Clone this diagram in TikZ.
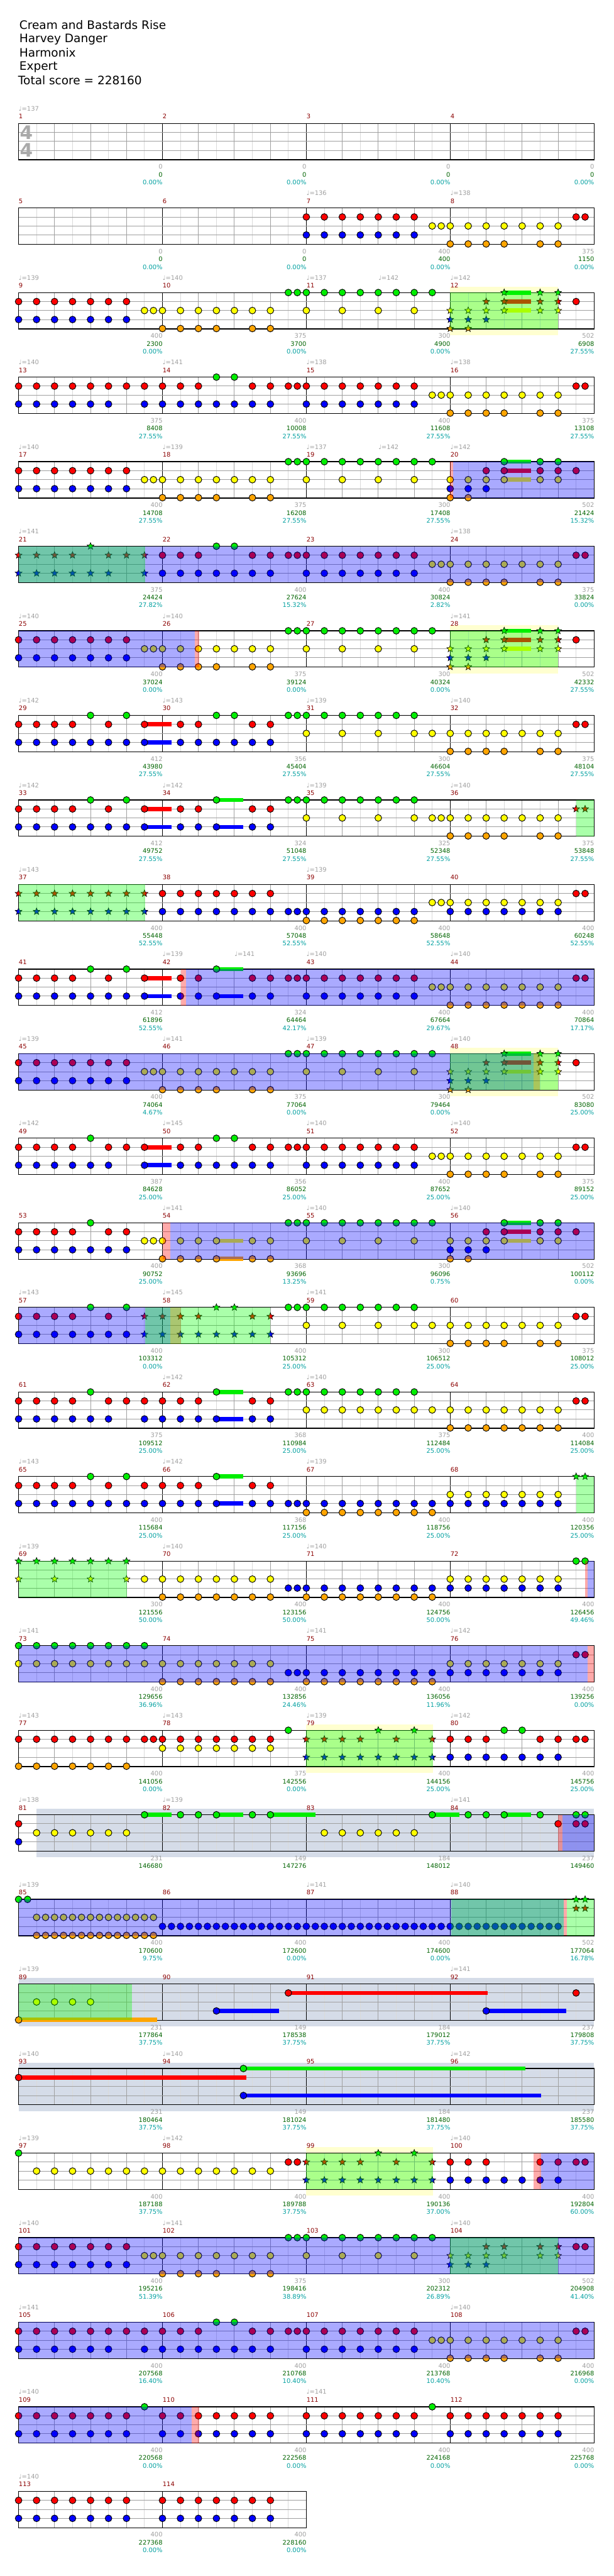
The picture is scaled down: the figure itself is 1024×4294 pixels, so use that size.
\documentclass[tikz,border=0pt]{standalone}
\usepackage{fontspec}
\setmainfont{DejaVu Sans}
\usetikzlibrary{shapes.geometric}
\pgfdeclarelayer{bg}\pgfdeclarelayer{fg}\pgfsetlayers{bg,main,fg}
\definecolor{ngreen}{RGB}{0,238,0}
\definecolor{nred}{RGB}{255,0,0}
\definecolor{nyellow}{RGB}{255,255,0}
\definecolor{nblue}{RGB}{0,0,255}
\definecolor{norange}{RGB}{255,165,0}
\definecolor{gridgrey}{RGB}{160,160,160}
\definecolor{gridlight}{RGB}{218,218,218}
\definecolor{txtgrey}{RGB}{160,160,160}
\definecolor{scoregreen}{RGB}{0,100,0}
\definecolor{pctteal}{RGB}{0,160,160}
\definecolor{mnum}{RGB}{139,0,0}
\definecolor{hlyellow}{RGB}{255,255,208}
\definecolor{hlslate}{RGB}{213,220,232}
\definecolor{sigfill}{RGB}{170,170,170}
\def\lG{0}\def\lR{1}\def\lY{2}\def\lB{3}\def\lO{4}
\def\cG{ngreen}\def\cR{nred}\def\cY{nyellow}\def\cB{nblue}\def\cO{norange}
\tikzset{
  labtxt/.style={font=\fontsize{5.2}{6}\selectfont, inner sep=0pt},
  mnumtxt/.style={labtxt, text=mnum, anchor=west},
  tempotxt/.style={labtxt, text=txtgrey, anchor=west},
  titletxt/.style={font=\fontsize{9.7}{11}\selectfont, inner sep=0pt, anchor=west},
  notedot/.style={draw=black, line width=0.5pt},
  starnote/.style={star, star points=5, star point ratio=2.3, minimum size=6pt, inner sep=0pt, draw=black, line width=0.35pt}
}
\newcommand\setT[1]{\pgfmathsetmacro\rT{205.7+140.97*(#1)}}
\newcommand\staffrow[3]{%
  \setT{#1}%
  \pgfmathtruncatemacro\nlines{8*#2-1}%
  \pgfmathsetmacro\xe{31+240*#2}%
  \foreach \j in {1,...,\nlines}{%
    \pgfmathtruncatemacro\jm{mod(\j,8)}%
    \pgfmathtruncatemacro\je{mod(\j,2)}%
    \ifnum\jm=0 \draw[black,line width=0.55pt] ({31+30*\j},\rT) -- ++(0,60.6);%
    \else\ifnum\je=0 \draw[gridgrey,line width=0.5pt] ({31+30*\j},\rT) -- ++(0,60.6);%
    \else \draw[gridlight,line width=0.5pt] ({31+30*\j},\rT) -- ++(0,60.6);\fi\fi
  }%
  \foreach \k in {1,2,3}{\draw[gridgrey,line width=0.5pt] (31,{\rT+15*\k}) -- (\xe,{\rT+15*\k});}%
  \draw[black,line width=0.65pt] (31,\rT) rectangle (\xe,{\rT+60.6});%
  \foreach \k in {1,...,#2}{\pgfmathtruncatemacro\mm{#3+\k-1}%
    \node[mnumtxt] (m\mm) at ({31+240*(\k-1)},{\rT-11.7}) {\mm};}%
}
\newcommand\nt[3]{\setT{#1}\edef\ncol{\csname c#2\endcsname}\edef\nl{\csname l#2\endcsname}%
  \foreach \s in {#3}{\filldraw[notedot, fill=\ncol] ({31+15*\s},{\rT+15*\nl}) circle[radius=5.6];}}
\newcommand\st[3]{\setT{#1}\edef\ncol{\csname c#2\endcsname}\edef\nl{\csname l#2\endcsname}%
  \foreach \s in {#3}{\node[starnote, fill=\ncol] at ({31+15*\s},{\rT+15*\nl}) {};}}
\newcommand\su[4]{\setT{#1}\edef\ncol{\csname c#2\endcsname}\edef\nl{\csname l#2\endcsname}%
  \fill[\ncol] ({31+15*#3},{\rT+15*\nl-3.5}) rectangle (#4,{\rT+15*\nl+3.5});}
\newcommand\ov[4]{\setT{#1}\begin{pgfonlayer}{fg}\fill[#4,opacity=0.333] (#2,\rT) rectangle (#3,{\rT+60.6});\end{pgfonlayer}}
\newcommand\hl[4]{\setT{#1}\begin{pgfonlayer}{bg}\fill[#4] (#2,{\rT-10}) rectangle (#3,{\rT+71});\end{pgfonlayer}}
\newcommand\tempo[3]{\setT{#1}\node[tempotxt] at ({31+15*#2},{\rT-24.7}) {♩=#3};}
\newcommand\mlab[5]{\setT{#1}%
  \node[labtxt,anchor=east,text=txtgrey] at ({31+240*#2+0.5},{\rT+72.3}) {#3};%
  \node[labtxt,anchor=east,text=scoregreen] at ({31+240*#2+0.5},{\rT+85.3}) {#4};%
  \node[labtxt,anchor=east,text=pctteal] at ({31+240*#2+0.5},{\rT+98.3}) {#5};}
\newcommand\spblock[1]{%
  \su{#1}{G}{54}{886}\su{#1}{R}{54}{886}\su{#1}{Y}{54}{886}%
  \st{#1}{Y}{48,50,52,54,58,60}\st{#1}{B}{48,50,52}\st{#1}{O}{48,50}%
  \st{#1}{R}{52,54,58,60}\st{#1}{G}{54,58,60}}
\begin{document}
\begin{tikzpicture}[x=0.5pt,y=-0.5pt]
\begin{pgfonlayer}{bg}\fill[white] (0,0) rectangle (1024,4294);\end{pgfonlayer}
\useasboundingbox (0,0) rectangle (1024,4294);
\node[titletxt] (title) at (32,42) {Cream and Bastards Rise};
\node[titletxt] (artist) at (32,66) {Harvey Danger};
\node[titletxt] (charter) at (32,88) {Harmonix};
\node[titletxt] (diff) at (32,112) {Expert};
\node[titletxt] (total) at (30,134) {Total score = 228160};
% ---- row 0
\staffrow{0}{4}{1}
\node[font=\bfseries\fontsize{15.5}{16}\selectfont, text=sigfill, inner sep=0pt] (sigA) at (44,220.7) {4};
\node[font=\bfseries\fontsize{15.5}{16}\selectfont, text=sigfill, inner sep=0pt] (sigB) at (44,250.7) {4};
\tempo{0}{0}{137}
\mlab{0}{1}{0}{0}{0.00\%}\mlab{0}{2}{0}{0}{0.00\%}\mlab{0}{3}{0}{0}{0.00\%}\mlab{0}{4}{0}{0}{0.00\%}
% ---- row 1
\staffrow{1}{4}{5}
\tempo{1}{32}{136}\tempo{1}{48}{138}
\nt{1}{R}{32,34,36,38,40,42,44,62,63}
\nt{1}{B}{32,34,36,38,40,42,44}
\nt{1}{Y}{46,47,48,50,52,54,56,58,60}
\nt{1}{O}{48,50,52,54,58,60}
\mlab{1}{1}{0}{0}{0.00\%}\mlab{1}{2}{0}{0}{0.00\%}\mlab{1}{3}{400}{400}{0.00\%}\mlab{1}{4}{375}{1150}{0.00\%}
% ---- row 2
\hl{2}{751}{931}{hlyellow}
\staffrow{2}{4}{9}
\tempo{2}{0}{139}\tempo{2}{16}{140}\tempo{2}{32}{137}\tempo{2}{40}{142}\tempo{2}{48}{142}
\nt{2}{R}{0,2,4,6,8,10,12,62}
\nt{2}{B}{0,2,4,6,8,10,12}
\nt{2}{Y}{14,15,16,18,20,22,24,26,28,32,36,40,44}
\nt{2}{O}{16,18,20,22,26,28}
\nt{2}{G}{30,31,32,34,36,38,40,42,44,46}
\spblock{2}
\ov{2}{751}{931}{green}
\mlab{2}{1}{400}{2300}{0.00\%}\mlab{2}{2}{375}{3700}{0.00\%}\mlab{2}{3}{300}{4900}{0.00\%}\mlab{2}{4}{502}{6908}{27.55\%}
% ---- row 3
\staffrow{3}{4}{13}
\tempo{3}{0}{140}\tempo{3}{16}{141}\tempo{3}{32}{138}\tempo{3}{48}{138}
\nt{3}{R}{0,2,4,6,8,10,12,14,16,18,20,26,28,30,31,32,34,36,38,40,42,44,62,63}
\nt{3}{G}{22,24}
\nt{3}{B}{0,2,4,6,8,10,14,16,18,20,22,24,26,28,32,34,36,38,40,42,44}
\nt{3}{Y}{46,47,48,50,52,54,56,58,60}
\nt{3}{O}{48,50,52,54,58,60}
\mlab{3}{1}{375}{8408}{27.55\%}\mlab{3}{2}{400}{10008}{27.55\%}\mlab{3}{3}{400}{11608}{27.55\%}\mlab{3}{4}{375}{13108}{27.55\%}
% ---- row 4
\staffrow{4}{4}{17}
\tempo{4}{0}{140}\tempo{4}{16}{139}\tempo{4}{32}{137}\tempo{4}{40}{142}\tempo{4}{48}{142}
\su{4}{G}{54}{886}\su{4}{R}{54}{886}\su{4}{Y}{54}{886}
\nt{4}{R}{0,2,4,6,8,10,12,52,54,58,60,62}
\nt{4}{B}{0,2,4,6,8,10,12,48,50,52}
\nt{4}{Y}{14,15,16,18,20,22,24,26,28,32,36,40,44,48,50,52,54,58,60}
\nt{4}{O}{16,18,20,22,26,28,48,50}
\nt{4}{G}{30,31,32,34,36,38,40,42,44,46,54,58,60}
\ov{4}{751}{756}{red}\ov{4}{756}{991}{blue}
\mlab{4}{1}{400}{14708}{27.55\%}\mlab{4}{2}{375}{16208}{27.55\%}\mlab{4}{3}{300}{17408}{27.55\%}\mlab{4}{4}{502}{21424}{15.32\%}
% ---- row 5
\staffrow{5}{4}{21}
\tempo{5}{0}{141}\tempo{5}{48}{138}
\st{5}{R}{0,2,4,6,10,12,14}\st{5}{G}{8}\st{5}{B}{0,2,4,6,8,10,14}
\nt{5}{R}{16,18,20,26,28,30,31,32,34,36,38,40,42,44,62,63}
\nt{5}{G}{22,24}
\nt{5}{B}{16,18,20,22,24,26,28,32,34,36,38,40,42,44}
\nt{5}{Y}{46,47,48,50,52,54,56,58,60}
\nt{5}{O}{48,50,52,54,58,60}
\ov{5}{31}{991}{blue}\ov{5}{31}{242}{green}
\mlab{5}{1}{375}{24424}{27.82\%}\mlab{5}{2}{400}{27624}{15.32\%}\mlab{5}{3}{400}{30824}{2.82\%}\mlab{5}{4}{375}{33824}{0.00\%}
% ---- row 6
\hl{6}{751}{931}{hlyellow}
\staffrow{6}{4}{25}
\tempo{6}{0}{140}\tempo{6}{16}{140}\tempo{6}{48}{141}
\nt{6}{R}{0,2,4,6,8,10,12,62}
\nt{6}{B}{0,2,4,6,8,10,12}
\nt{6}{Y}{14,15,16,18,20,22,24,26,28,32,36,40,44}
\nt{6}{O}{16,18,20,22,26,28}
\nt{6}{G}{30,31,32,34,36,38,40,42,44,46}
\spblock{6}
\ov{6}{31}{325}{blue}\ov{6}{325}{332}{red}\ov{6}{751}{931}{green}
\mlab{6}{1}{400}{37024}{0.00\%}\mlab{6}{2}{375}{39124}{0.00\%}\mlab{6}{3}{300}{40324}{0.00\%}\mlab{6}{4}{502}{42332}{27.55\%}
% ---- row 7
\staffrow{7}{4}{29}
\tempo{7}{0}{142}\tempo{7}{16}{143}\tempo{7}{32}{139}\tempo{7}{48}{140}
\su{7}{R}{14}{286}\su{7}{B}{14}{286}
\nt{7}{R}{0,2,4,6,10,14,18,20,26,28,62,63}
\nt{7}{G}{8,12,22,24,30,31,32,34,36,38,40,42,44}
\nt{7}{B}{0,2,4,6,8,10,12,14,18,20,22,24,26,28}
\nt{7}{Y}{32,36,40,44,46,48,50,52,54,56,58,60}
\nt{7}{O}{48,50,52,54,58,60}
\mlab{7}{1}{412}{43980}{27.55\%}\mlab{7}{2}{356}{45404}{27.55\%}\mlab{7}{3}{300}{46604}{27.55\%}\mlab{7}{4}{375}{48104}{27.55\%}
% ---- row 8
\staffrow{8}{4}{33}
\tempo{8}{0}{142}\tempo{8}{16}{142}\tempo{8}{32}{139}\tempo{8}{48}{140}
\su{8}{R}{14}{286}\su{8}{B}{14}{286}\su{8}{G}{22}{406}\su{8}{B}{22}{406}
\nt{8}{R}{0,2,4,6,10,14,18,20,26,28}
\st{8}{R}{62,63}
\nt{8}{G}{8,12,22,30,31,32,34,36,38,40,42,44}
\nt{8}{B}{0,2,4,6,8,10,12,14,18,20,22,26,28}
\nt{8}{Y}{32,36,40,44,46,47,48,50,52,54,56,58,60}
\nt{8}{O}{48,50,52,54,58,60}
\ov{8}{961.5}{991}{green}
\mlab{8}{1}{412}{49752}{27.55\%}\mlab{8}{2}{324}{51048}{27.55\%}\mlab{8}{3}{325}{52348}{27.55\%}\mlab{8}{4}{375}{53848}{27.55\%}
% ---- row 9
\staffrow{9}{4}{37}
\tempo{9}{0}{143}\tempo{9}{32}{139}
\st{9}{R}{0,2,4,6,8,10,12,14}\st{9}{B}{0,2,4,6,8,10,12,14}
\nt{9}{R}{16,18,20,22,24,26,28,62,63}
\nt{9}{B}{16,18,20,22,24,26,28,30,31,32,34,36,38,40,42,44,48,50,52,54,56,58,60}
\nt{9}{O}{32,34,36,38,40,42,44}
\nt{9}{Y}{46,47,48,50,52,54,56,58,60}
\ov{9}{31}{242}{green}
\mlab{9}{1}{400}{55448}{52.55\%}\mlab{9}{2}{400}{57048}{52.55\%}\mlab{9}{3}{400}{58648}{52.55\%}\mlab{9}{4}{400}{60248}{52.55\%}
% ---- row 10
\staffrow{10}{4}{41}
\tempo{10}{16}{139}\tempo{10}{24}{141}\tempo{10}{32}{140}\tempo{10}{48}{140}
\su{10}{R}{14}{286}\su{10}{B}{14}{286}\su{10}{G}{22}{406}\su{10}{B}{22}{406}
\nt{10}{R}{0,2,4,6,10,14,18,20,26,28,30,31,32,34,36,38,40,42,44,62,63}
\nt{10}{G}{8,12,22}
\nt{10}{B}{0,2,4,6,8,10,12,14,18,20,22,26,28,32,34,36,38,40,42,44}
\nt{10}{Y}{46,47,48,50,52,54,56,58,60}
\nt{10}{O}{48,50,52,54,56,58,60}
\ov{10}{302}{310}{red}\ov{10}{310}{991}{blue}
\mlab{10}{1}{412}{61896}{52.55\%}\mlab{10}{2}{324}{64464}{42.17\%}\mlab{10}{3}{400}{67664}{29.67\%}\mlab{10}{4}{400}{70864}{17.17\%}
% ---- row 11
\hl{11}{751}{931}{hlyellow}
\staffrow{11}{4}{45}
\tempo{11}{0}{139}\tempo{11}{16}{141}\tempo{11}{32}{139}\tempo{11}{48}{140}
\nt{11}{R}{0,2,4,6,8,10,12,62}
\nt{11}{B}{0,2,4,6,8,10,12}
\nt{11}{Y}{14,15,16,18,20,22,24,26,28,32,36,40,44}
\nt{11}{O}{16,18,20,22,26,28}
\nt{11}{G}{30,31,32,34,36,38,40,42,44,46}
\spblock{11}
\ov{11}{31}{890}{blue}\ov{11}{890}{901}{red}\ov{11}{751}{931}{green}
\mlab{11}{1}{400}{74064}{4.67\%}\mlab{11}{2}{375}{77064}{0.00\%}\mlab{11}{3}{300}{79464}{0.00\%}\mlab{11}{4}{502}{83080}{25.00\%}
% ---- row 12
\staffrow{12}{4}{49}
\tempo{12}{0}{142}\tempo{12}{16}{145}\tempo{12}{32}{140}\tempo{12}{48}{140}
\su{12}{R}{14}{286}\su{12}{B}{14}{286}
\nt{12}{R}{0,2,4,6,10,12,14,18,20,26,28,30,31,32,34,36,38,40,42,44,62,63}
\nt{12}{G}{8,22,24}
\nt{12}{B}{0,2,4,6,8,10,14,18,20,22,24,26,28,32,34,36,38,40,42,44}
\nt{12}{Y}{46,47,48,50,52,54,56,58,60}
\nt{12}{O}{48,50,52,54,58,60}
\mlab{12}{1}{387}{84628}{25.00\%}\mlab{12}{2}{356}{86052}{25.00\%}\mlab{12}{3}{400}{87652}{25.00\%}\mlab{12}{4}{375}{89152}{25.00\%}
% ---- row 13
\staffrow{13}{4}{53}
\tempo{13}{16}{141}\tempo{13}{32}{140}\tempo{13}{48}{140}
\su{13}{R}{54}{886}\su{13}{G}{54}{886}\su{13}{Y}{54}{886}\su{13}{Y}{22}{406}\su{13}{O}{22}{406}
\nt{13}{R}{0,2,4,6,10,12,52,54,58,60,62}
\nt{13}{G}{8,30,31,32,34,36,38,40,42,44,46,54,58,60}
\nt{13}{B}{0,2,4,6,8,10,12,48,50,52}
\nt{13}{Y}{14,15,16,18,20,22,26,28,32,36,40,44,48,50,52,54,58,60}
\nt{13}{O}{16,18,20,22,26,28,48,50}
\ov{13}{272}{284}{red}\ov{13}{284}{991}{blue}
\mlab{13}{1}{400}{90752}{25.00\%}\mlab{13}{2}{368}{93696}{13.25\%}\mlab{13}{3}{300}{96096}{0.75\%}\mlab{13}{4}{502}{100112}{0.00\%}
% ---- row 14
\staffrow{14}{4}{57}
\tempo{14}{0}{143}\tempo{14}{16}{145}\tempo{14}{32}{141}
\nt{14}{R}{0,2,4,6,10,62,63}\st{14}{R}{14,16,18,20,26,28}
\nt{14}{G}{8,12,30,31,32,34,36,38,40,42,44}\st{14}{G}{22,24}
\nt{14}{B}{0,2,4,6,8,10,12}\st{14}{B}{14,16,18,20,22,24,26,28}
\nt{14}{Y}{32,36,40,44,46,48,50,52,54,56,58,60}
\nt{14}{O}{48,50,52,54,58,60}
\ov{14}{31}{284}{blue}\ov{14}{284}{302}{red}\ov{14}{242}{451}{green}
\mlab{14}{1}{400}{103312}{0.00\%}\mlab{14}{2}{400}{105312}{25.00\%}\mlab{14}{3}{300}{106512}{25.00\%}\mlab{14}{4}{375}{108012}{25.00\%}
% ---- row 15
\staffrow{15}{4}{61}
\tempo{15}{16}{142}\tempo{15}{32}{140}
\su{15}{G}{22}{406}\su{15}{B}{22}{406}
\nt{15}{R}{0,2,4,6,10,12,14,16,18,20,26,28,62,63}
\nt{15}{G}{8,22,30,31,32,34,36,38,40,42,44}
\nt{15}{B}{0,2,4,6,8,10,14,16,18,20,22,26,28}
\nt{15}{Y}{32,34,36,38,40,42,44,46,48,50,52,54,56,58,60}
\nt{15}{O}{48,50,52,54,56,58,60}
\mlab{15}{1}{375}{109512}{25.00\%}\mlab{15}{2}{368}{110984}{25.00\%}\mlab{15}{3}{375}{112484}{25.00\%}\mlab{15}{4}{400}{114084}{25.00\%}
% ---- row 16
\staffrow{16}{4}{65}
\tempo{16}{0}{143}\tempo{16}{16}{142}\tempo{16}{32}{139}
\su{16}{G}{22}{406}\su{16}{B}{22}{406}
\nt{16}{R}{0,2,4,6,10,14,16,18,20,26,28}
\nt{16}{G}{8,12,22}\st{16}{G}{62,63}
\nt{16}{B}{0,2,4,6,8,10,12,14,16,18,20,22,26,28,30,31,32,34,36,38,40,42,44,46,48,50,52,54,56,58,60}
\nt{16}{O}{32,34,36,38,40,42,44,46}
\nt{16}{Y}{48,50,52,54,56,58,60}
\ov{16}{961.5}{991}{green}
\mlab{16}{1}{400}{115684}{25.00\%}\mlab{16}{2}{368}{117156}{25.00\%}\mlab{16}{3}{400}{118756}{25.00\%}\mlab{16}{4}{400}{120356}{25.00\%}
% ---- row 17
\staffrow{17}{4}{69}
\tempo{17}{0}{139}\tempo{17}{16}{140}\tempo{17}{32}{140}
\st{17}{G}{0,2,4,6,8,10,12}\st{17}{Y}{0,4,8,12}
\nt{17}{Y}{14,16,18,20,22,24,26,28,48,50,52,54,56,58,60}
\nt{17}{O}{16,18,20,22,24,26,28,32,34,36,38,40,42,44,46}
\nt{17}{B}{30,31,32,34,36,38,40,42,44,46,48,50,52,54,56,58,60}
\nt{17}{G}{62,63}
\ov{17}{31}{211.6}{green}\ov{17}{976.5}{980}{red}\ov{17}{980}{991}{blue}
\mlab{17}{1}{300}{121556}{50.00\%}\mlab{17}{2}{400}{123156}{50.00\%}\mlab{17}{3}{400}{124756}{50.00\%}\mlab{17}{4}{400}{126456}{49.46\%}
% ---- row 18
\staffrow{18}{4}{73}
\tempo{18}{0}{141}\tempo{18}{32}{141}\tempo{18}{48}{142}
\nt{18}{G}{0,2,4,6,8,10,12,14}
\nt{18}{Y}{0,2,4,6,8,10,12,14,16,18,20,22,24,26,28,48,50,52,54,56,58,60}
\nt{18}{O}{16,18,20,22,24,26,28,32,34,36,38,40,42,44,46}
\nt{18}{B}{30,31,32,34,36,38,40,42,44,46,48,50,52,54,56,58,60}
\nt{18}{R}{62,63}
\ov{18}{31}{980}{blue}\ov{18}{980}{991}{red}
\mlab{18}{1}{400}{129656}{36.96\%}\mlab{18}{2}{400}{132856}{24.46\%}\mlab{18}{3}{400}{136056}{11.96\%}\mlab{18}{4}{400}{139256}{0.00\%}
% ---- row 19
\hl{19}{511}{722}{hlyellow}
\staffrow{19}{4}{77}
\tempo{19}{0}{143}\tempo{19}{16}{143}\tempo{19}{32}{139}\tempo{19}{48}{142}
\nt{19}{R}{0,2,4,6,8,10,12,14,15,16,18,20,22,24,26,28,48,50,52,58,60,62,63}\st{19}{R}{32,34,36,38,42,46}
\nt{19}{G}{30,54,56}\st{19}{G}{40,44}
\nt{19}{Y}{16,18,20,22,24,26,28}
\nt{19}{O}{0,2,4,6,8,10,12}
\st{19}{B}{32,34,36,38,40,42,44,46}\nt{19}{B}{48,50,52,54,56,58,60}
\ov{19}{511}{722}{green}
\mlab{19}{1}{400}{141056}{0.00\%}\mlab{19}{2}{375}{142556}{0.00\%}\mlab{19}{3}{400}{144156}{25.00\%}\mlab{19}{4}{400}{145756}{25.00\%}
% ---- row 20
\hl{20}{61}{991}{hlslate}
\staffrow{20}{4}{81}
\tempo{20}{0}{138}\tempo{20}{16}{139}\tempo{20}{48}{141}
\su{20}{G}{14}{286}\su{20}{G}{22}{406}\su{20}{G}{28}{526}\su{20}{G}{46}{766}\su{20}{G}{54}{886}
\nt{20}{R}{0,60,62,63}
\nt{20}{B}{0}
\nt{20}{Y}{2,4,6,8,10,12,34,36,38,40,42,44}
\nt{20}{G}{14,18,20,22,26,28,46,50,52,54,58,62,63}
\ov{20}{931}{938}{red}\ov{20}{938}{991}{blue}
\mlab{20}{1}{231}{146680}{}\mlab{20}{2}{149}{147276}{}\mlab{20}{3}{184}{148012}{}\mlab{20}{4}{237}{149460}{}
% ---- row 21 (approximate)
\staffrow{21}{4}{85}
\tempo{21}{0}{139}\tempo{21}{32}{141}\tempo{21}{48}{140}
\nt{21}{G}{0,1}
\nt{21}{Y}{2,3,4,5,6,7,8,9,10,11,12,13,14,15}
\nt{21}{O}{2,3,4,5,6,7,8,9,10,11,12,13,14,15}
\nt{21}{B}{16,17,18,19,20,21,22,23,24,25,26,27,28,29,30,31,32,33,34,35,36,37,38,39,40,41,42,43,44,45,46,47,48,49,50,51,52,53,54,55,56,57,58,59,60}
\st{21}{G}{62,63}\st{21}{R}{62,63}
\ov{21}{31}{940}{blue}\ov{21}{753}{940}{green}\ov{21}{940}{946}{red}\ov{21}{946}{991}{green}
\mlab{21}{1}{400}{170600}{9.75\%}\mlab{21}{2}{400}{172600}{0.00\%}\mlab{21}{3}{400}{174600}{0.00\%}\mlab{21}{4}{502}{177064}{16.78\%}
% ---- row 22 (approximate)
\hl{22}{31}{991}{hlslate}
\staffrow{22}{4}{89}
\tempo{22}{0}{139}\tempo{22}{48}{141}
\su{22}{O}{0}{262}\su{22}{B}{22}{465}\su{22}{R}{30}{813}\su{22}{B}{52}{945}
\nt{22}{O}{0}\nt{22}{B}{22,52}\nt{22}{R}{30,62}\nt{22}{Y}{2,4,6,8}
\ov{22}{31}{220}{green}
\mlab{22}{1}{231}{177864}{37.75\%}\mlab{22}{2}{149}{178538}{37.75\%}\mlab{22}{3}{184}{179012}{37.75\%}\mlab{22}{4}{237}{179808}{37.75\%}
% ---- row 23 (approximate)
\hl{23}{31}{991}{hlslate}
\staffrow{23}{4}{93}
\tempo{23}{0}{140}\tempo{23}{16}{140}\tempo{23}{48}{142}
\su{23}{R}{0}{411}\su{23}{G}{25}{876}\su{23}{B}{25}{903}
\nt{23}{R}{0}\nt{23}{G}{25}\nt{23}{B}{25}
\mlab{23}{1}{231}{180464}{37.75\%}\mlab{23}{2}{149}{181024}{37.75\%}\mlab{23}{3}{184}{181480}{37.75\%}\mlab{23}{4}{237}{185580}{37.75\%}
% ---- row 24 (approximate)
\hl{24}{511}{722}{hlyellow}
\staffrow{24}{4}{97}
\tempo{24}{0}{139}\tempo{24}{16}{142}\tempo{24}{48}{140}
\nt{24}{G}{0}
\nt{24}{Y}{2,4,6,8,10,12,14,16,18,20,22,24,26,28}
\nt{24}{R}{30,31,48,50,52,58,60,62,63}
\st{24}{G}{40,44}\st{24}{R}{32,34,36,38,42,46}\st{24}{B}{32,34,36,38,40,42,44,46}
\nt{24}{B}{48,50,52,54,56,58,60}
\ov{24}{511}{722}{green}\ov{24}{890}{903}{red}\ov{24}{903}{991}{blue}
\mlab{24}{1}{400}{187188}{37.75\%}\mlab{24}{2}{400}{189788}{37.75\%}\mlab{24}{3}{400}{190136}{37.00\%}\mlab{24}{4}{400}{192804}{60.00\%}
% ---- row 25 (approximate)
\staffrow{25}{4}{101}
\tempo{25}{0}{140}\tempo{25}{16}{141}\tempo{25}{48}{140}
\nt{25}{R}{0,2,4,6,8,10,12,62,63}
\nt{25}{B}{0,2,4,6,8,10,12}
\nt{25}{Y}{14,15,16,18,20,22,24,26,28,32,36,40,44}
\nt{25}{O}{16,18,20,22,26,28}
\nt{25}{G}{30,31,32,34,36,38,40,42,44,46}
\st{25}{Y}{48,50,52,54,58,60}\st{25}{R}{52,54,58,60}\st{25}{B}{48,50,52}
\ov{25}{31}{991}{blue}\ov{25}{751}{931}{green}
\mlab{25}{1}{400}{195216}{51.39\%}\mlab{25}{2}{375}{198416}{38.89\%}\mlab{25}{3}{300}{202312}{26.89\%}\mlab{25}{4}{502}{204908}{41.40\%}
% ---- row 26 (approximate)
\staffrow{26}{4}{105}
\tempo{26}{0}{141}\tempo{26}{48}{140}
\nt{26}{R}{0,2,4,6,8,10,12,14,16,18,20,26,28,30,31,32,34,36,38,40,42,44,62,63}
\nt{26}{G}{22,24}
\nt{26}{B}{0,2,4,6,8,10,14,16,18,20,22,24,26,28,32,34,36,38,40,42,44}
\nt{26}{Y}{46,47,48,50,52,54,56,58,60}
\nt{26}{O}{48,50,52,54,58,60}
\ov{26}{31}{991}{blue}
\mlab{26}{1}{400}{207568}{16.40\%}\mlab{26}{2}{400}{210768}{10.40\%}\mlab{26}{3}{400}{213768}{10.40\%}\mlab{26}{4}{400}{216968}{0.00\%}
% ---- row 27 (approximate)
\staffrow{27}{4}{109}
\tempo{27}{0}{140}\tempo{27}{32}{141}
\nt{27}{R}{0,2,4,6,8,10,12,16,18,20,22,24,26,28,32,34,36,38,40,42,44,48,50,52,54,56,58,60}
\nt{27}{B}{0,2,4,6,8,10,12,16,18,20,22,24,26,28,32,34,36,38,40,42,44,48,50,52,54,56,58,60}
\nt{27}{G}{14,46}
\ov{27}{31}{320}{blue}\ov{27}{320}{332}{red}
\mlab{27}{1}{400}{220568}{0.00\%}\mlab{27}{2}{400}{222568}{0.00\%}\mlab{27}{3}{400}{224168}{0.00\%}\mlab{27}{4}{400}{225768}{0.00\%}
% ---- row 28 (approximate)
\staffrow{28}{2}{113}
\tempo{28}{0}{140}
\nt{28}{R}{0,2,4,6,8,10,12,16,18,20,22,24,26,28}
\nt{28}{B}{0,2,4,6,8,10,12,16,18,20,22,24,26,28}
\mlab{28}{1}{400}{227368}{0.00\%}\mlab{28}{2}{400}{228160}{0.00\%}
\end{tikzpicture}
\end{document}
